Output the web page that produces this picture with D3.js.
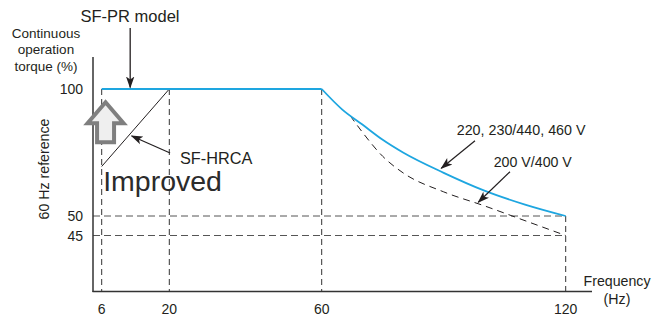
<!DOCTYPE html>
<html>
<head>
<meta charset="utf-8">
<script src="https://cdn.jsdelivr.net/npm/d3@7/dist/d3.min.js"></script>
<style>
  html, body { margin: 0; padding: 0; background: #fff; }
  svg { display: block; font-family: "Liberation Sans", Arial, Helvetica, sans-serif; }
</style>
</head>
<body>
<svg id="chart" width="664" height="320"></svg>
<script>
// ---------- data ----------
const xTicks = [6, 20, 60, 120];
const xTickLabels = ["6", "20", "60", "120"];
const yTicks = [100, 50, 45];
const yTickLabels = ["100", "50", "45"];

// SF-PR model: flat rated torque 6..60 Hz
const flatFreq = [6, 60];
const flatTorque = [100, 100];
// 220, 230/440, 460 V curve above 60 Hz
const hiVFreq = [60, 65, 70, 75, 80, 90, 100, 110, 120];
const hiVTorque = [100, 92, 86, 80, 75, 67, 60, 54.5, 50];
// 200 V/400 V curve (dashed)
const loVFreq = [67, 70, 75, 80, 90, 100, 110, 120];
const loVTorque = [89.5, 83, 73.5, 67, 59.5, 54, 48.8, 45];
// SF-HRCA (older model) line
const hrcaFreq = [6, 20];
const hrcaTorque = [69.5, 100];

// reference guide lines
const vGuideFreq = [6, 20, 60, 120];
const vGuideTop = [100, 100, 100, 50];
const hGuideTorque = [50, 45];

// ---------- layout ----------
const W = 664, H = 320;
const axisLeft = 93, axisRight = 592, axisTop = 57, axisBottom = 291.5;

const x = d3.scaleLinear().domain([6, 20, 60, 120]).range([101.7, 169.3, 321.7, 565.7]);
const y = d3.scaleLinear().domain([30, 45, 50, 100]).range([axisBottom, 235.5, 216, 89]);

const svg = d3.select("#chart");
const blue = "#1ea6e0";
const ink = "#231f20";

// arrowhead marker
const defs = svg.append("defs");
defs.append("marker")
  .attr("id", "ah").attr("viewBox", "0 0 12 10")
  .attr("refX", 11).attr("refY", 5)
  .attr("markerWidth", 12).attr("markerHeight", 10)
  .attr("markerUnits", "userSpaceOnUse")
  .attr("orient", "auto")
  .append("path").attr("d", "M0,0.8 L12,5 L0,9.2 L3,5 Z").attr("fill", ink);

// guide lines (dashed)
const g = svg.append("g");
g.selectAll("line.v").data(vGuideFreq).join("line")
  .attr("x1", d => x(d)).attr("x2", d => x(d))
  .attr("y1", (d, i) => y(vGuideTop[i])).attr("y2", axisBottom)
  .attr("stroke", "#333").attr("stroke-width", 1).attr("stroke-dasharray", "6,4");
g.selectAll("line.h").data(hGuideTorque).join("line")
  .attr("x1", axisLeft).attr("x2", x(120))
  .attr("y1", d => y(d)).attr("y2", d => y(d))
  .attr("stroke", "#555").attr("stroke-width", 1).attr("stroke-dasharray", "7,4");

// axes lines
svg.append("line").attr("x1", axisLeft).attr("x2", axisLeft).attr("y1", axisTop).attr("y2", axisBottom + 0.5)
  .attr("stroke", "#333").attr("stroke-width", 1.5);
svg.append("line").attr("x1", axisLeft - 0.5).attr("x2", axisRight).attr("y1", axisBottom).attr("y2", axisBottom)
  .attr("stroke", "#333").attr("stroke-width", 1.5);

// x tick labels
svg.append("g").selectAll("text").data(xTicks).join("text")
  .attr("x", d => x(d)).attr("y", 314)
  .attr("text-anchor", "middle").attr("font-size", 14).attr("fill", ink)
  .text((d, i) => xTickLabels[i]);
// y tick labels
svg.append("g").selectAll("text").data(yTicks).join("text")
  .attr("x", 83).attr("y", d => y(d) + 5)
  .attr("text-anchor", "end").attr("font-size", 14).attr("fill", ink)
  .text((d, i) => yTickLabels[i]);

// SF-HRCA line
const line = d3.line().x(d => x(d[0])).y(d => y(d[1]));
svg.append("path").datum(hrcaFreq.map((f, i) => [f, hrcaTorque[i]]))
  .attr("d", line).attr("fill", "none").attr("stroke", ink).attr("stroke-width", 1);

// 200V/400V dashed curve
const curve = d3.line().x(d => x(d[0])).y(d => y(d[1])).curve(d3.curveMonotoneX);
svg.append("path").datum(loVFreq.map((f, i) => [f, loVTorque[i]]))
  .attr("d", curve).attr("fill", "none").attr("stroke", ink).attr("stroke-width", 1)
  .attr("stroke-dasharray", "7,5");

// blue lines
svg.append("path").datum(flatFreq.map((f, i) => [f, flatTorque[i]]))
  .attr("d", line).attr("fill", "none").attr("stroke", blue).attr("stroke-width", 2);
svg.append("path").datum(hiVFreq.map((f, i) => [f, hiVTorque[i]]))
  .attr("d", curve).attr("fill", "none").attr("stroke", blue).attr("stroke-width", 1.8);

// big "improved" arrow
const bigArrow = [[0, -21], [18, 0], [8.5, 0], [8.5, 19], [-8.5, 19], [-8.5, 0], [-18, 0]];
svg.append("path")
  .attr("transform", `translate(${x(6.8)},${y(86.5)})`)
  .attr("d", "M" + bigArrow.map(p => p.join(",")).join("L") + "Z")
  .attr("fill", "#efefef").attr("stroke", "#7f7f7f").attr("stroke-width", 4)
  .attr("stroke-linejoin", "miter");

// annotation arrows
function arrow(x1, y1, x2, y2, w) {
  svg.append("line").attr("x1", x1).attr("y1", y1).attr("x2", x2).attr("y2", y2)
    .attr("stroke", ink).attr("stroke-width", w || 1).attr("marker-end", "url(#ah)");
}
arrow(x(11.9), 28, x(11.9), y(100) - 1.5, 1.3);           // SF-PR model
arrow(x(20.2), y(74.8), x(12.2), y(81.5), 1.2);            // SF-HRCA
arrow(x(97.7), y(79.6), x(89.4), y(68.8), 1.2);            // 220..460 V
arrow(x(106.3), y(67.4), x(98.5), y(55.4), 1.2);           // 200 V/400 V

// text labels
function label(t, xx, yy, size, anchor, color) {
  return svg.append("text").attr("x", xx).attr("y", yy)
    .attr("font-size", size).attr("text-anchor", anchor || "start")
    .attr("fill", color || ink).text(t);
}
label("SF-PR model", 130, 22, 16.5, "middle");
label("Continuous", 46, 38, 13.5, "middle");
label("operation", 46, 54, 13.5, "middle");
label("torque (%)", 46, 71, 13.5, "middle");
label("SF-HRCA", x(22.8), y(72.4) + 4.5, 16.3, "start");
label("Improved", x(6.3), y(60), 28.5, "start", "#2b2b2b");
label("220, 230/440, 460 V", x(93.2), y(83.9) + 5, 14.3, "start");
label("200 V/400 V", x(102.3), y(71.4) + 5, 14.2, "start");
label("Frequency", 617, 286, 14.2, "middle");
label("(Hz)", 617, 304, 14.2, "middle");
svg.append("text")
  .attr("transform", "translate(49,169) rotate(-90)")
  .attr("text-anchor", "middle").attr("font-size", 14.2).attr("fill", ink)
  .text("60 Hz reference");
</script>
</body>
</html>
